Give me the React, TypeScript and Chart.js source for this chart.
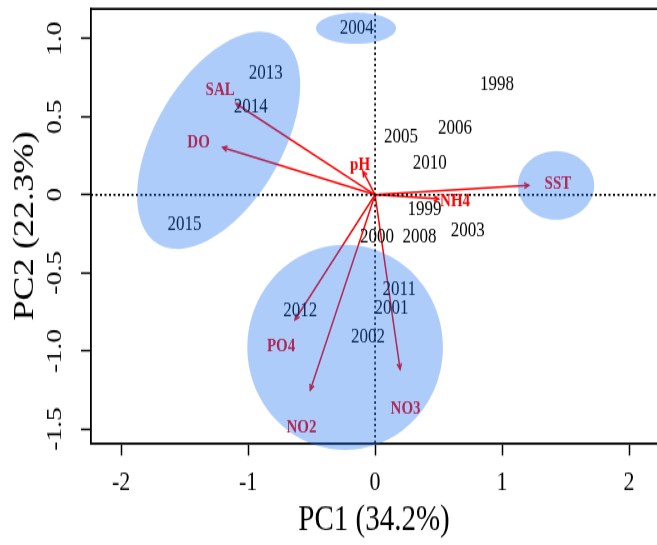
import React, { useEffect, useRef } from 'react';
import { Chart, registerables } from 'chart.js';

Chart.register(...registerables);

const FONT = '"Liberation Serif", "Times New Roman", serif';

// Sample scores (years)
const years = ['1998', '1999', '2000', '2001', '2002', '2003', '2004', '2005', '2006', '2008', '2010', '2011', '2012', '2013', '2014', '2015'];
const yearPC1 = [0.96, 0.39, 0.015, 0.13, -0.055, 0.73, -0.145, 0.205, 0.63, 0.35, 0.43, 0.19, -0.59, -0.86, -0.98, -1.5];
const yearPC2 = [0.71, -0.096, -0.27, -0.73, -0.91, -0.23, 1.07, 0.37, 0.43, -0.27, 0.205, -0.61, -0.74, 0.78, 0.56, -0.19];

// Variable loadings (arrow tips) and label positions
const variables = ['SAL', 'DO', 'pH', 'SST', 'NH4', 'PO4', 'NO2', 'NO3'];
const loadPC1 = [-1.094, -1.2, -0.095, 1.21, 0.5, -0.63, -0.51, 0.197];
const loadPC2 = [0.583, 0.303, 0.15, 0.06, -0.026, -0.8, -1.25, -1.117];
const labelPC1 = [-1.22, -1.39, -0.118, 1.44, 0.63, -0.74, -0.58, 0.24];
const labelPC2 = [0.67, 0.33, 0.19, 0.07, -0.045, -0.97, -1.49, -1.37];

// Group ellipses: centre and two half-axis vectors (data units)
const groupCenterPC1 = [-1.232, -0.15, 1.425, -0.236];
const groupCenterPC2 = [0.349, 1.067, 0.06, -0.977];
const groupAxisA_PC1 = [0.475, 0.315, 0.3, 0.77];
const groupAxisA_PC2 = [0.665, 0, 0, 0];
const groupAxisB_PC1 = [0.432, 0, 0, 0];
const groupAxisB_PC2 = [-0.205, 0.1, 0.22, 0.657];

const xTicks = [-2, -1, 0, 1, 2];
const yTicks = [-1.5, -1, -0.5, 0, 0.5, 1];
const X_MIN = -2.237;
const X_MAX = 2.22;
const Y_MIN = -1.59;
const Y_MAX = 1.19;

const CANVAS_W = 657;
const CANVAS_H = 436; // drawn, then displayed at 545 tall

const biplotPlugin = {
  id: 'biplot',
  afterDatasetsDraw(chart: any) {
    const { ctx, chartArea, scales } = chart;
    const x = scales.x;
    const y = scales.y;
    ctx.save();
    // arrow heads
    ctx.strokeStyle = '#ff0000';
    ctx.lineWidth = 1.5;
    const ox = x.getPixelForValue(0);
    const oy = y.getPixelForValue(0);
    variables.forEach((_, i) => {
      const px = x.getPixelForValue(loadPC1[i]);
      const py = y.getPixelForValue(loadPC2[i]);
      const ang = Math.atan2(py - oy, px - ox);
      const L = 5;
      const a = Math.PI / 7;
      ctx.beginPath();
      ctx.moveTo(px - L * Math.cos(ang - a), py - L * Math.sin(ang - a));
      ctx.lineTo(px, py);
      ctx.lineTo(px - L * Math.cos(ang + a), py - L * Math.sin(ang + a));
      ctx.stroke();
    });
    // year labels
    ctx.textAlign = 'center';
    ctx.textBaseline = 'middle';
    ctx.fillStyle = '#000';
    ctx.font = `17px ${FONT}`;
    years.forEach((t, i) => {
      ctx.fillText(t, x.getPixelForValue(yearPC1[i]), y.getPixelForValue(yearPC2[i]));
    });
    // variable labels
    ctx.fillStyle = '#ff0000';
    ctx.font = `bold 15px ${FONT}`;
    variables.forEach((t, i) => {
      ctx.fillText(t, x.getPixelForValue(labelPC1[i]), y.getPixelForValue(labelPC2[i]));
    });
    // group ellipses (translucent overlay)
    ctx.fillStyle = 'rgba(20,110,240,0.35)';
    groupCenterPC1.forEach((cx, i) => {
      const cy = groupCenterPC2[i];
      ctx.beginPath();
      const N = 120;
      for (let k = 0; k <= N; k++) {
        const t = (k / N) * 2 * Math.PI;
        const vx = cx + Math.cos(t) * groupAxisA_PC1[i] + Math.sin(t) * groupAxisB_PC1[i];
        const vy = cy + Math.cos(t) * groupAxisA_PC2[i] + Math.sin(t) * groupAxisB_PC2[i];
        const px = x.getPixelForValue(vx);
        const py = y.getPixelForValue(vy);
        if (k === 0) ctx.moveTo(px, py);
        else ctx.lineTo(px, py);
      }
      ctx.closePath();
      ctx.fill();
    });
    // top frame line
    ctx.strokeStyle = '#000';
    ctx.lineWidth = 1.8;
    ctx.beginPath();
    ctx.moveTo(chartArea.left, chartArea.top);
    ctx.lineTo(chartArea.right, chartArea.top);
    ctx.stroke();
    ctx.restore();
  },
};

export default function App() {
  const ref = useRef<HTMLCanvasElement | null>(null);

  useEffect(() => {
    const canvas = ref.current;
    if (!canvas) return;
    const dotted = { borderColor: '#000', borderWidth: 1.7, borderDash: [2, 2.5], showLine: true, pointRadius: 0 };
    const datasets: any[] = [
      { ...dotted, data: [{ x: X_MIN, y: 0 }, { x: X_MAX, y: 0 }] },
      { ...dotted, data: [{ x: 0, y: Y_MIN }, { x: 0, y: Y_MAX }] },
      ...variables.map((v, i) => ({
        label: v,
        data: [{ x: 0, y: 0 }, { x: loadPC1[i], y: loadPC2[i] }],
        borderColor: '#ff0000',
        borderWidth: 1.5,
        showLine: true,
        pointRadius: 0,
      })),
    ];
    const tickFont = { family: FONT, size: 22 };
    const chart = new Chart(canvas, {
      type: 'scatter',
      data: { datasets },
      plugins: [biplotPlugin],
      options: {
        animation: false,
        responsive: false,
        devicePixelRatio: 1,
        events: [],
        layout: { padding: { top: 7.2, left: 0, right: 0, bottom: 0 } },
        plugins: { legend: { display: false }, tooltip: { enabled: false } },
        scales: {
          x: {
            type: 'linear',
            min: X_MIN,
            max: X_MAX,
            afterBuildTicks: (s: any) => {
              s.ticks = xTicks.map((v) => ({ value: v }));
            },
            afterFit: (s: any) => {
              s.height = CANVAS_H - 354.4;
              s.paddingLeft = 0;
              s.paddingRight = 0;
            },
            ticks: {
              autoSkip: false,
              color: '#000',
              font: tickFont,
              padding: 9,
              callback: (v: any) => String(v),
            },
            grid: { drawOnChartArea: false, drawTicks: true, tickLength: 10, tickWidth: 1.5, tickColor: '#000' },
            border: { display: true, color: '#000', width: 1.8 },
            title: { display: true, text: 'PC1 (34.2%)', color: '#000', font: { family: FONT, size: 29 }, padding: { top: 0, bottom: 2 } },
          },
          y: {
            type: 'linear',
            min: Y_MIN,
            max: Y_MAX,
            afterBuildTicks: (s: any) => {
              s.ticks = yTicks.map((v) => ({ value: v }));
            },
            afterFit: (s: any) => {
              s.width = 91;
              s.paddingTop = 0;
              s.paddingBottom = 0;
            },
            ticks: {
              autoSkip: false,
              color: '#000',
              font: tickFont,
              padding: 8,
              minRotation: 90,
              maxRotation: 90,
              crossAlign: 'center',
              callback: (v: any) => (v === 0 ? '0' : Number(v).toFixed(1)),
            },
            grid: { drawOnChartArea: false, drawTicks: true, tickLength: 10, tickWidth: 1.5, tickColor: '#000' },
            border: { display: true, color: '#000', width: 1.8 },
            title: { display: true, text: 'PC2 (22.3%)', color: '#000', font: { family: FONT, size: 29 }, padding: { top: 8, bottom: 0 } },
          },
        },
      } as any,
    });
    return () => chart.destroy();
  }, []);

  return (
    <canvas
      ref={ref}
      width={CANVAS_W}
      height={CANVAS_H}
      style={{ position: 'absolute', left: 0, top: 0, width: '657px', height: '545px' }}
    />
  );
}
